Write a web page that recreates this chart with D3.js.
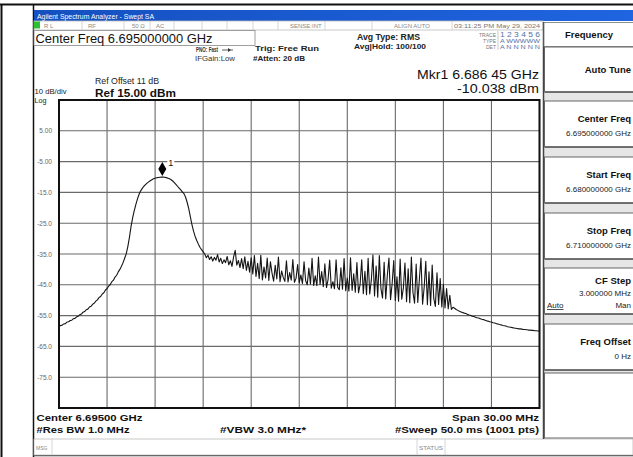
<!DOCTYPE html>
<html><head><meta charset="utf-8">
<script src="https://cdn.jsdelivr.net/npm/d3@7"></script>
<style>
html,body{margin:0;padding:0;background:#fff;}
svg{display:block;font-family:"Liberation Sans",Arial,sans-serif;}
</style></head><body>
<svg id="c" width="633" height="457"></svg>
<script>
// ---------------- data ----------------
const startFreqMHz = 6680, stopFreqMHz = 6710;
const refLevelDbm = 15, bottomLevelDbm = -85;
const yTickValues = [5, -5, -15, -25, -35, -45, -55, -65, -75];
const yTickLabels = ["5.00", "-5.00", "-15.0", "-25.0", "-35.0", "-45.0", "-55.0", "-65.0", "-75.0"];
const yGridValues = [15, 5, -5, -15, -25, -35, -45, -55, -65, -75, -85];
const xGridFreqs = [6680, 6683, 6686, 6689, 6692, 6695, 6698, 6701, 6704, 6707, 6710];
const markerFreqMHz = 6686.45, markerDbm = -10.038;

const traceSkirt = [
 -58.6, -58.2, -58.1, -57.7, -57.6, -57.1, -57.0, -56.6, -56.5, -56.0,
 -55.9, -55.4, -55.2, -54.7, -54.5, -53.9, -53.7, -53.1, -52.9, -52.2,
 -52.0, -51.3, -51.0, -50.3, -49.9, -49.1, -48.8, -48.0, -47.6, -46.7,
 -46.3, -45.4, -44.9, -44.0, -43.5, -42.5, -41.9, -40.8, -40.0, -39.0,
 -37.8, -36.4, -34.9, -32.5, -29.5, -26.0, -23.2, -20.9, -18.9, -17.1,
 -15.6, -14.5, -13.7, -13.0, -12.5, -12.0, -11.6, -11.2, -10.9, -10.6,
 -10.4, -10.25, -10.15, -10.08, -10.04, -10.04, -10.1, -10.2, -10.4, -10.6,
 -10.9, -11.3, -11.8, -12.4, -13.0, -13.6, -14.2, -14.8, -15.4, -16.5,
 -18.2, -20.3, -22.9, -25.5, -27.6, -29.3, -30.6, -31.8, -32.8, -33.6, -34.3
];
const traceNoise = [
 -35.0, -36.2, -35.4, -36.8, -35.9, -37.3, -36.1, -37.0, -35.2, -37.6,
 -36.4, -38.1, -36.9, -37.8, -35.8, -38.5, -37.2, -39.0, -36.0, -33.8,
 -38.6, -37.1, -39.4, -36.5, -39.8, -35.9, -40.3, -37.4, -40.9, -36.2,
 -41.5, -35.5, -42.3, -38.0, -43.0, -35.4, -43.4, -39.2, -42.8, -36.3,
 -43.6, -37.5, -41.2, -43.8, -38.7, -43.1, -36.0, -44.0, -40.5, -42.6,
 -43.9, -37.2, -44.1, -41.0, -43.5, -36.8, -44.2, -42.9, -38.4, -44.4,
 -41.8, -44.6, -37.5, -43.7, -45.0, -39.6, -44.8, -36.4, -45.2, -42.1,
 -45.3, -36.0, -44.9, -40.7, -45.6, -38.2, -45.9, -43.3, -37.0, -46.1,
 -44.0, -46.3, -36.9, -45.8, -46.6, -39.5, -46.4, -36.5, -46.9, -42.8,
 -47.1, -36.2, -46.8, -41.4, -47.4, -37.8, -47.6, -44.9, -36.9, -47.9,
 -40.6, -48.2, -36.4, -48.0, -43.5, -35.3, -48.6, -38.9, -49.0, -35.5,
 -46.2, -49.3, -37.7, -49.6, -41.9, -36.3, -49.8, -44.6, -37.1, -50.1,
 -42.4, -50.3, -36.6, -49.7, -46.0, -37.9, -50.5, -39.8, -50.8, -36.0,
 -47.5, -51.0, -38.3, -50.7, -43.2, -36.3, -51.3, -45.8, -37.4, -51.5,
 -40.8, -51.7, -38.6, -49.5, -52.0, -41.1, -51.4, -43.0, -52.2, -44.8,
 -52.5, -46.2, -52.8, -48.4, -53.0
];
const traceTail = [
 -52.3, -52.6, -53.0, -53.3, -53.6, -53.8, -54.0, -54.2, -54.3, -54.6,
 -54.8, -54.9, -55.2, -55.3, -55.5, -55.7, -55.8, -56.0, -56.2, -56.3,
 -56.5, -56.7, -56.8, -57.0, -57.1, -57.3, -57.4, -57.6, -57.7, -57.9,
 -58.0, -58.2, -58.3, -58.4, -58.6, -58.7, -58.8, -58.9, -59.0, -59.1,
 -59.2, -59.3, -59.3, -59.4, -59.5, -59.5, -59.6, -59.7, -59.7, -59.8,
 -59.8, -59.9, -59.9, -60.0, -60.0
];
const trace = traceSkirt.concat(traceNoise, traceTail);

const softkeyTitles = ["Auto Tune", "Center Freq", "Start Freq", "Stop Freq", "CF Step", "Freq Offset"];
const softkeyValues = ["", "6.695000000 GHz", "6.680000000 GHz", "6.710000000 GHz", "3.000000 MHz", "0 Hz"];

// ---------------- drawing ----------------
const svg = d3.select("#c");
const PL = 59, PR = 539.5, PT = 100, PB = 408;
const x = d3.scaleLinear().domain([startFreqMHz, stopFreqMHz]).range([PL, PR]);
const y = d3.scaleLinear().domain([bottomLevelDbm, refLevelDbm]).range([PB, PT]);

svg.append("rect").attr("width", 633).attr("height", 457).attr("fill", "#fff");

function line(x1, y1, x2, y2, c, w) {
  svg.append("line").attr("x1", x1).attr("y1", y1).attr("x2", x2).attr("y2", y2)
    .attr("stroke", c).attr("stroke-width", w);
}
function text(s, tx, ty, o) {
  o = o || {};
  const t = svg.append("text").attr("x", tx).attr("y", ty).text(s)
    .attr("font-size", o.size || 9)
    .attr("font-weight", o.bold ? "bold" : "normal")
    .attr("fill", o.color || "#111")
    .attr("text-anchor", o.anchor || "start");
  if (o.len) t.attr("textLength", o.len).attr("lengthAdjust", "spacingAndGlyphs");
  if (o.underline) t.attr("text-decoration", "underline");
  return t;
}

// outer table lines
line(0, 4.5, 633, 4.5, "#111", 2);
line(1.5, 4, 1.5, 457, "#111", 2);
line(33.5, 4, 33.5, 457, "#111", 1.5);
line(33, 455.5, 633, 455.5, "#333", 1.5);

// title bar
const grad = svg.append("defs").append("linearGradient").attr("id", "tb").attr("x1", 0).attr("x2", 1);
grad.append("stop").attr("offset", 0).attr("stop-color", "#1550c0");
grad.append("stop").attr("offset", 1).attr("stop-color", "#1f64e0");
svg.append("rect").attr("x", 34).attr("y", 10).attr("width", 599).attr("height", 11).attr("fill", "url(#tb)");
text("Agilent Spectrum Analyzer - Swept SA", 37, 18.5, {size: 7, color: "#fff", len: 117});

// status row
svg.append("rect").attr("x", 34).attr("y", 21).attr("width", 509).attr("height", 9).attr("fill", "#fff").attr("stroke", "#bbb").attr("stroke-width", 0.8);
svg.append("rect").attr("x", 34).attr("y", 21.5).attr("width", 6).attr("height", 7).attr("fill", "#2ec02e");
[82, 124, 150, 174, 202, 227, 253, 278, 325, 372, 452].forEach(sx => line(sx, 21, sx, 30, "#ccc", 0.8));
const st = {size: 6, color: "#888"};
text("R L", 44, 28, st); text("RF", 88, 28, st); text("50 Ω", 132, 28, st); text("AC", 156, 28, st);
text("SENSE:INT", 290, 28, st); text("ALIGN AUTO", 394, 28, st);
text("03:11:25 PM May 29, 2024", 454, 28, {size: 6, color: "#777", len: 86});

// center freq box
svg.append("rect").attr("x", 34).attr("y", 30.5).attr("width", 221).attr("height", 15).attr("fill", "#fff").attr("stroke", "#888").attr("stroke-width", 0.8);
text("Center Freq 6.695000000 GHz", 35.5, 42.5, {size: 13, color: "#111", len: 177});

// setup texts
text("PNO: Fast", 196, 52, {size: 6.5, bold: true, color: "#333", len: 22});
line(222, 50, 233, 50, "#333", 0.8);
svg.append("path").attr("d", "M228,48 L231,50 L228,52 Z").attr("fill", "#333");
text("IFGain:Low", 195, 61, {size: 6.5, color: "#333", len: 40});
text("Trig: Free Run", 255, 51, {size: 8, bold: true, color: "#222", len: 64});
text("#Atten: 20 dB", 253, 60.5, {size: 7.5, bold: true, color: "#222", len: 52});
text("Avg Type: RMS", 357, 39.5, {size: 8.5, bold: true, color: "#222", len: 63});
text("Avg|Hold: 100/100", 354, 49, {size: 8, bold: true, color: "#222", len: 72});

// trace table
const tt = {size: 5, color: "#777", anchor: "end"};
text("TRACE", 496, 36.5, tt); text("TYPE", 496, 42.5, tt); text("DET", 496, 48.5, tt);
line(498, 31, 498, 50, "#aaa", 0.6);
text("1 2 3 4 5 6", 500, 37, {size: 6.5, color: "#5570a8", len: 40});
text("A WWWWW", 500, 43, {size: 5.5, color: "#5570a8", len: 40});
text("A N N N N N", 500, 49, {size: 5.5, color: "#5570a8", len: 40});

// marker readout
text("Mkr1 6.686 45 GHz", 539, 78.5, {size: 13.5, color: "#111", anchor: "end", len: 122});
text("-10.038 dBm", 539, 93.3, {size: 13.5, color: "#111", anchor: "end", len: 82});

// ref texts
text("Ref Offset 11 dB", 95, 84, {size: 9, color: "#222", len: 64});
text("Ref 15.00 dBm", 95, 96.5, {size: 11.5, bold: true, color: "#111", len: 81});
text("10 dB/div", 34.5, 94, {size: 8, color: "#222", len: 32});
text("Log", 34.5, 102.5, {size: 7.5, color: "#222", len: 12});

// grid
const g = svg.append("g");
g.selectAll("line.h").data(yGridValues).join("line")
  .attr("x1", PL).attr("x2", PR).attr("y1", d => y(d)).attr("y2", d => y(d))
  .attr("stroke", "#6a6a6a").attr("stroke-width", 1.1);
g.selectAll("line.v").data(xGridFreqs).join("line")
  .attr("y1", PT).attr("y2", PB).attr("x1", d => x(d)).attr("x2", d => x(d))
  .attr("stroke", "#6a6a6a").attr("stroke-width", 1.1);

// y axis labels via d3 axis
const yAxis = d3.axisLeft(y).tickValues(yTickValues).tickSize(0).tickPadding(0)
  .tickFormat((d, i) => yTickLabels[i]);
const ya = svg.append("g").attr("transform", `translate(52,0)`).call(yAxis);
ya.select(".domain").remove();
ya.selectAll("text").attr("font-size", 6.5).attr("fill", "#666")
  .attr("font-family", "'Liberation Sans', Arial, sans-serif");

// trace
const step = (stopFreqMHz - startFreqMHz) / (trace.length - 1);
const lineGen = d3.line().x((d, i) => x(startFreqMHz + i * step)).y(d => y(d));
svg.append("path").datum(trace).attr("d", lineGen)
  .attr("fill", "none").attr("stroke", "#141414").attr("stroke-width", 1.1).attr("stroke-linejoin", "round");

// plot frame
svg.append("rect").attr("x", PL).attr("y", PT).attr("width", PR - PL).attr("height", PB - PT)
  .attr("fill", "none").attr("stroke", "#111").attr("stroke-width", 2);

// marker
const mx = x(markerFreqMHz), my = y(markerDbm);
svg.append("path").attr("d", `M${mx},${my - 1} L${mx + 4},${my - 8} L${mx},${my - 15} L${mx - 4},${my - 8} Z`).attr("fill", "#000");
svg.append("rect").attr("x", mx + 5).attr("y", my - 19).attr("width", 7).attr("height", 9).attr("fill", "#fff");
text("1", mx + 6, my - 11.5, {size: 9, color: "#111"});

// bottom annotations
text("Center 6.69500 GHz", 36.5, 420.5, {size: 9.5, bold: true, color: "#111", len: 106});
text("#Res BW 1.0 MHz", 36.5, 433, {size: 9.5, bold: true, color: "#111", len: 93});
text("#VBW 3.0 MHz*", 220, 433, {size: 9.5, bold: true, color: "#111", len: 86});
text("Span 30.00 MHz", 539, 420.5, {size: 9.5, bold: true, color: "#111", anchor: "end", len: 87});
text("#Sweep  50.0 ms (1001 pts)", 539, 433, {size: 9.5, bold: true, color: "#111", anchor: "end", len: 144});

// msg bar
svg.append("rect").attr("x", 34).attr("y", 439).attr("width", 599).attr("height", 16).attr("fill", "#fff").attr("stroke", "#bbb").attr("stroke-width", 0.8);
line(52, 439, 52, 455, "#ccc", 0.8);
line(417, 439, 417, 455, "#ccc", 0.8);
line(445, 439, 445, 455, "#ccc", 0.8);
text("MSG", 36, 449.5, {size: 5, color: "#888"});
text("STATUS", 419, 449.5, {size: 5, color: "#888", len: 24});

// right panel
svg.append("rect").attr("x", 543).attr("y", 22).attr("width", 92).attr("height", 417).attr("fill", "#e6e6e6");
line(543.5, 22, 543.5, 439, "#444", 1.5);
svg.append("rect").attr("x", 544).attr("y", 22.5).attr("width", 90).attr("height", 24).attr("fill", "#fff").attr("stroke", "#777").attr("stroke-width", 0.8);
text("Frequency", 589, 37.5, {size: 9.5, bold: true, color: "#111", anchor: "middle", len: 48});

const keyTops = [47, 101, 157, 213, 268, 324];
const keyH = 46;
keyTops.forEach((top, i) => {
  const h = i === 0 ? 45 : keyH;
  svg.append("rect").attr("x", 544.5).attr("y", top).attr("width", 90).attr("height", h)
    .attr("fill", "#fff").attr("stroke", "#666").attr("stroke-width", 1);
  line(545, top + h, 633, top + h, "#333", 1.2);
  const ty = i === 0 ? top + 26 : (i === 4 ? top + 16 : top + 21);
  text(softkeyTitles[i], 631, ty, {size: 9.5, bold: true, color: "#111", anchor: "end"});
  if (softkeyValues[i]) {
    const vy = i === 4 ? top + 28 : top + 35;
    text(softkeyValues[i], 631, vy, {size: 8, color: "#222", anchor: "end"});
  }
});
text("Auto", 547, 308, {size: 8, color: "#222", underline: true});
text("Man", 631, 308, {size: 8, color: "#222", anchor: "end"});
svg.append("rect").attr("x", 544.5).attr("y", 373).attr("width", 90).attr("height", 65)
  .attr("fill", "#fff").attr("stroke", "#666").attr("stroke-width", 1);
</script>
</body></html>
